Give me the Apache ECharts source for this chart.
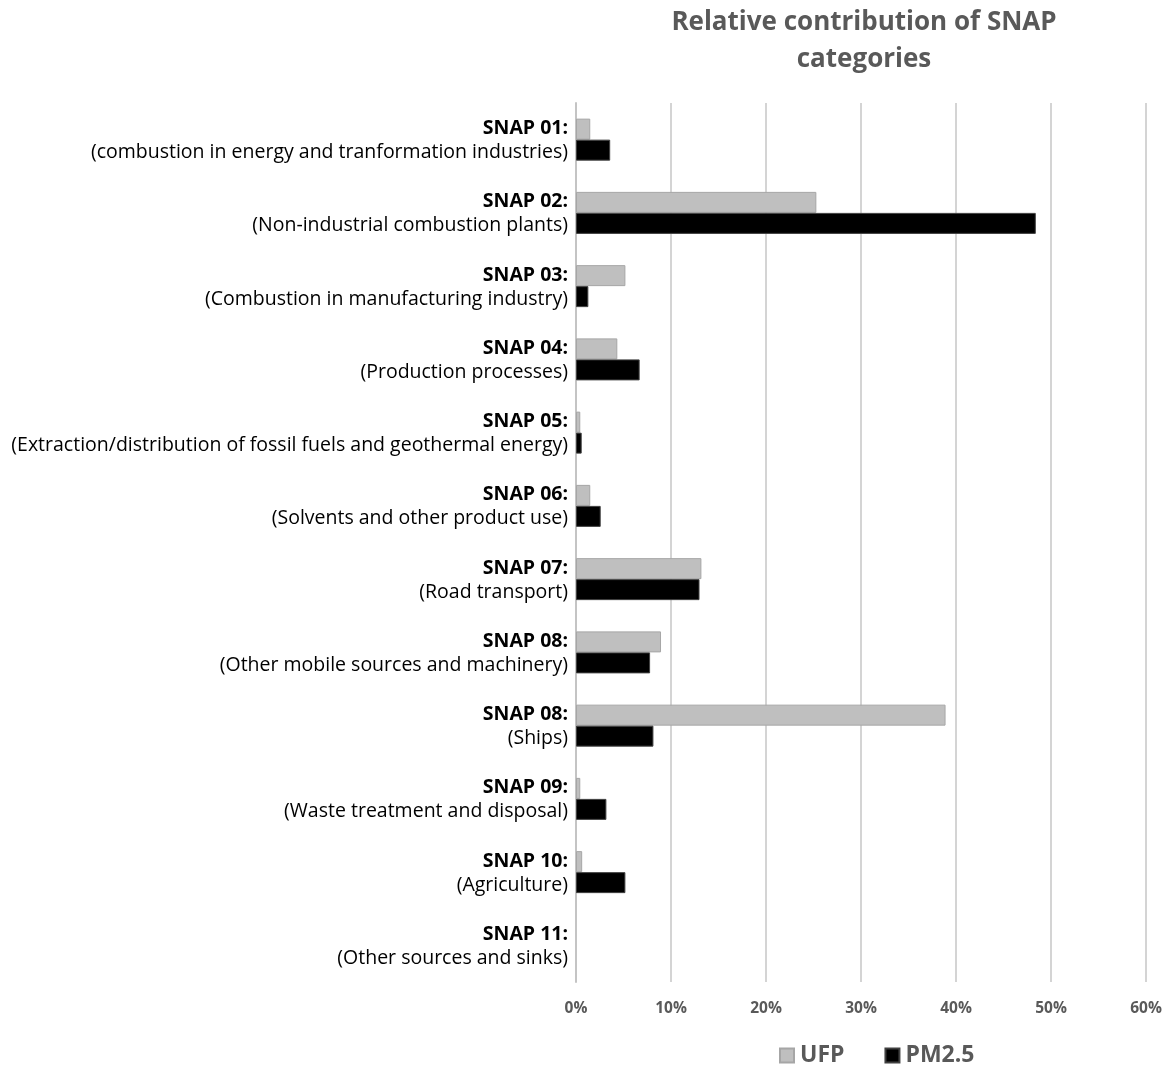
<!DOCTYPE html>
<html>
<head>
<meta charset="utf-8">
<script src="https://cdn.jsdelivr.net/npm/echarts@6/dist/echarts.min.js"></script>
<style>
  html, body { margin: 0; padding: 0; background: #ffffff; }
  #chart { width: 1171px; height: 1068px; }
</style>
</head>
<body>
<div id="chart"></div>
<script>
// SNAP source categories (top to bottom)
const codes = [
  'SNAP 01:', 'SNAP 02:', 'SNAP 03:', 'SNAP 04:', 'SNAP 05:', 'SNAP 06:',
  'SNAP 07:', 'SNAP 08:', 'SNAP 08:', 'SNAP 09:', 'SNAP 10:', 'SNAP 11:'
];
const descriptions = [
  '(combustion in energy and tranformation industries)',
  '(Non-industrial combustion plants)',
  '(Combustion in manufacturing industry)',
  '(Production processes)',
  '(Extraction/distribution of fossil fuels and geothermal energy)',
  '(Solvents and other product use)',
  '(Road transport)',
  '(Other mobile sources and machinery)',
  '(Ships)',
  '(Waste treatment and disposal)',
  '(Agriculture)',
  '(Other sources and sinks)'
];
// Relative contribution, percent
const ufp  = [1.5, 25.3, 5.2, 4.35, 0.45, 1.5, 13.2, 8.95, 38.9, 0.45, 0.65, 0];
const pm25 = [3.6, 48.4, 1.3, 6.7, 0.6, 2.6, 13.0, 7.8, 8.15, 3.2, 5.2, 0];
// Value axis ticks, percent
const xTicks = [0, 10, 20, 30, 40, 50, 60];

const categories = codes.map((c, i) => c + '\n' + descriptions[i]);
const font = '"Open Sans", Lato, sans-serif';

// zero-valued bars get no outline so nothing is drawn for them
const withOutline = vals => vals.map(v => v === 0 ? { value: v, itemStyle: { borderWidth: 0 } } : v);

const chart = echarts.init(document.getElementById('chart'));
chart.setOption({
  backgroundColor: '#ffffff',
  animation: false,
  title: {
    text: 'Relative contribution of SNAP\ncategories',
    left: 859,
    textAlign: 'center',
    top: -1,
    textStyle: {
      fontFamily: font,
      fontSize: 26,
      fontWeight: 'bold',
      color: '#595959',
      lineHeight: 37
    }
  },
  legend: {
    data: ['UFP', 'PM2.5'],
    left: 774,
    top: 1039,
    icon: 'rect',
    itemWidth: 14,
    itemHeight: 14,
    itemGap: 40,
    textStyle: {
      fontFamily: font,
      fontSize: 23,
      fontWeight: 'bold',
      color: '#595959',
      padding: [0, 0, 0, 1]
    }
  },
  grid: {
    left: 576,
    right: 25,
    top: 103,
    bottom: 86,
    containLabel: false
  },
  xAxis: {
    type: 'value',
    min: xTicks[0],
    max: xTicks[xTicks.length - 1],
    interval: 10,
    axisLine: { show: false },
    axisTick: { show: false },
    splitLine: { show: true, lineStyle: { color: '#d4d4d4', width: 2 } },
    axisLabel: {
      margin: 19,
      formatter: v => v + '%',
      fontFamily: font,
      fontSize: 15.5,
      fontWeight: 'bold',
      color: '#595959'
    }
  },
  yAxis: {
    type: 'category',
    inverse: true,
    data: categories,
    axisLine: { show: true, lineStyle: { color: '#c4c4c4', width: 2 } },
    axisTick: { show: false },
    axisLabel: {
      margin: 8,
      align: 'right',
      fontFamily: font,
      formatter: function (value) {
        const parts = value.split('\n');
        return '{c|' + parts[0] + '}\n{d|' + parts[1] + '}';
      },
      rich: {
        c: { fontFamily: font, fontSize: 19.5, fontWeight: 'bold', color: '#000000', lineHeight: 26, align: 'right', padding: [3, 0, 0, 0] },
        d: { fontFamily: font, fontSize: 19.5, color: '#000000', lineHeight: 25, align: 'right' }
      }
    }
  },
  series: [
    {
      name: 'UFP',
      type: 'bar',
      data: withOutline(ufp),
      barWidth: 21,
      barGap: '0%',
      itemStyle: { color: '#bfbfbf', borderColor: '#a6a6a6', borderWidth: 1 }
    },
    {
      name: 'PM2.5',
      type: 'bar',
      data: withOutline(pm25),
      barWidth: 21,
      barGap: '0%',
      itemStyle: { color: '#000000', borderColor: '#404040', borderWidth: 1 }
    }
  ]
});
</script>
</body>
</html>
